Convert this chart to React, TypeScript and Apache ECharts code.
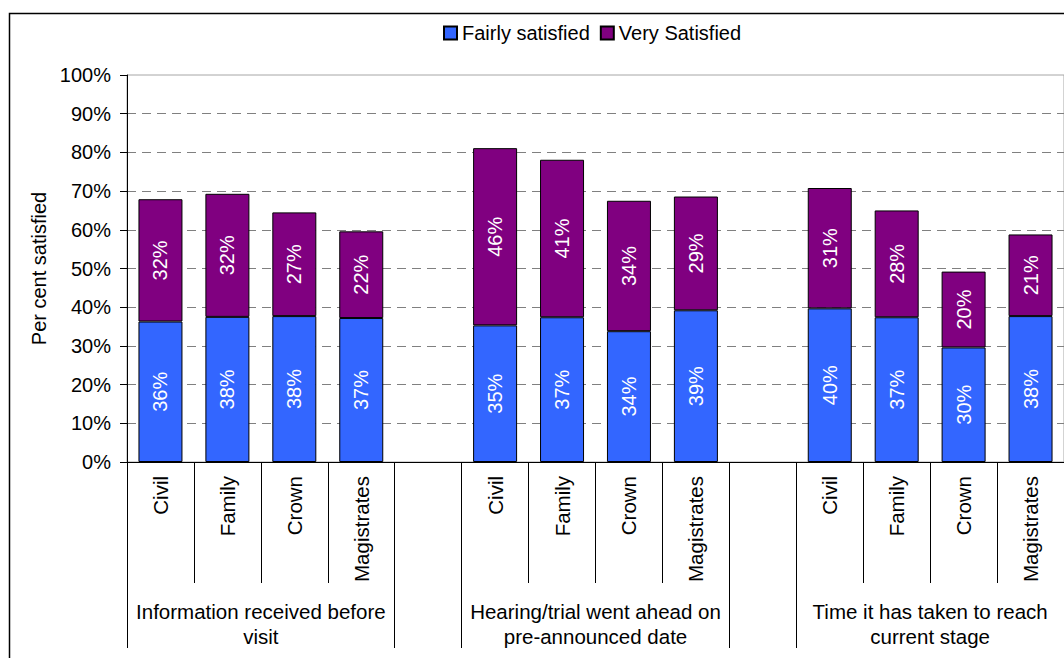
import React, { useEffect, useRef } from "react";
import * as echarts from "echarts";

// Court type for each slot; empty slots separate the three question groups.
const categories = [
  "Civil", "Family", "Crown", "Magistrates", "",
  "Civil", "Family", "Crown", "Magistrates", "",
  "Civil", "Family", "Crown", "Magistrates",
];

const groupNames = [
  "Information received before\nvisit",
  "Hearing/trial went ahead on\npre-announced date",
  "Time it has taken to reach\ncurrent stage",
];
// Centre of each group and group boundaries, in category-slot units.
const groupCentres = [2, 7, 12];
const groupBounds = [0, 4, 5, 9, 10, 14];

const fairlySatisfied = [36.3, 37.5, 37.7, 37.2, null, 35.3, 37.4, 33.8, 39.2, null, 39.7, 37.4, 29.6, 37.7];
const verySatisfied = [31.6, 31.8, 26.8, 22.4, null, 45.8, 40.7, 33.7, 29.4, null, 31.1, 27.6, 19.6, 21.1];

const yTicks = { min: 0, max: 100, interval: 10 };

const FONT = "'Liberation Sans', Arial, sans-serif";

export default function App() {
  const ref = useRef<HTMLDivElement>(null);

  useEffect(() => {
    if (!ref.current) return;
    const chart = echarts.init(ref.current, undefined, { renderer: "svg" });

    const barLabel = {
      show: true,
      position: "inside",
      rotate: 90,
      color: "#fff",
      fontSize: 20,
      fontFamily: FONT,
      formatter: (p: any) => (p.value == null ? "" : Math.round(p.value) + "%"),
    };

    chart.setOption({
      animation: false,
      backgroundColor: "#fff",
      textStyle: { fontFamily: FONT },
      legend: {
        left: 443,
        top: 23,
        padding: 0,
        itemWidth: 13,
        itemHeight: 13,
        itemGap: 10,
        icon: "rect",
        textStyle: { fontSize: 20, color: "#000", fontFamily: FONT },
        data: ["Fairly satisfied", "Very Satisfied"],
      },
      grid: {
        left: 127,
        top: 75,
        width: 938,
        height: 387,
        show: true,
        borderColor: "#a6a6a6",
        borderWidth: 1,
        backgroundColor: "transparent",
      },
      xAxis: [
        {
          type: "category",
          data: categories,
          position: "bottom",
          axisLine: { show: true, lineStyle: { color: "#000", width: 1 } },
          axisTick: { show: true, interval: 0, length: 121, lineStyle: { color: "#000", width: 1 } },
          axisLabel: {
            interval: 0,
            rotate: 90,
            margin: 14,
            fontSize: 20.5,
            color: "#000",
            fontFamily: FONT,
          },
          splitLine: { show: false },
        },
        {
          type: "value",
          min: 0,
          max: 14,
          position: "bottom",
          axisLine: { show: false },
          splitLine: { show: false },
          axisTick: {
            show: true,
            customValues: groupBounds,
            length: 186,
            lineStyle: { color: "#000", width: 1 },
          },
          axisLabel: {
            customValues: groupCentres,
            margin: 137,
            fontSize: 20.5,
            lineHeight: 25,
            color: "#000",
            fontFamily: FONT,
            formatter: (v: number) => {
              const i = groupCentres.indexOf(v);
              return i >= 0 ? groupNames[i] : "";
            },
          },
        },
      ],
      yAxis: {
        type: "value",
        min: yTicks.min,
        max: yTicks.max,
        interval: yTicks.interval,
        name: "Per cent satisfied",
        nameLocation: "middle",
        nameGap: 78,
        nameTextStyle: { fontSize: 20, color: "#000", fontFamily: FONT },
        axisLine: { show: true, lineStyle: { color: "#000", width: 1 } },
        axisTick: { show: true, length: 7, lineStyle: { color: "#000" } },
        axisLabel: {
          formatter: "{value}%",
          fontSize: 20,
          color: "#000",
          margin: 16,
          fontFamily: FONT,
        },
        splitLine: {
          show: true,
          showMinLine: false,
          showMaxLine: false,
          lineStyle: { color: "#808080", type: [9, 6], width: 1 },
        },
      },
      graphic: [
        {
          type: "rect",
          shape: { x: 9.5, y: 13.5, width: 1200, height: 800 },
          style: { fill: "none", stroke: "#000", lineWidth: 1.5 },
          silent: true,
        },
      ],
      series: [
        {
          name: "Fairly satisfied",
          type: "bar",
          stack: "total",
          xAxisIndex: 0,
          barWidth: 44,
          data: fairlySatisfied,
          itemStyle: { color: "#3366FF", borderColor: "#000", borderWidth: 1 },
          label: barLabel,
        },
        {
          name: "Very Satisfied",
          type: "bar",
          stack: "total",
          xAxisIndex: 0,
          barWidth: 44,
          data: verySatisfied,
          itemStyle: { color: "#800080", borderColor: "#000", borderWidth: 1 },
          label: barLabel,
        },
      ],
    });

    return () => chart.dispose();
  }, []);

  return (
    <div
      ref={ref}
      style={{ position: "fixed", left: 0, top: 0, width: 1064, height: 658 }}
    />
  );
}
